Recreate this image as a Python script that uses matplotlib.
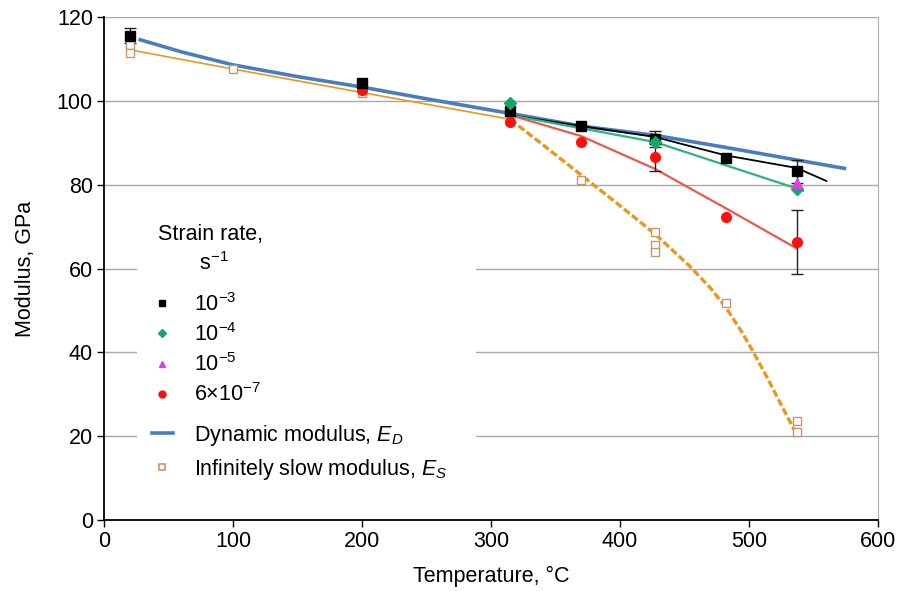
import matplotlib
matplotlib.use("Agg")
import matplotlib.pyplot as plt
from matplotlib.lines import Line2D
import numpy as np

plt.rcParams["font.family"] = ["Liberation Sans", "DejaVu Sans"]
plt.rcParams["mathtext.fontset"] = "custom"
plt.rcParams["mathtext.rm"] = "Liberation Sans"
plt.rcParams["mathtext.it"] = "Liberation Sans:italic"

# measured points, strain rate 1e-3 / 1e-4 / 1e-5 / 6e-7
t_e3 = [20, 200, 315, 370, 427, 482, 537]
m_e3 = [115.6, 104.2, 97.6, 93.9, 91.0, 86.3, 83.2]
err_e3 = [1.7, 0, 0, 0, 1.9, 0, 2.7]

t_e4 = [315, 427, 537]
m_e4 = [99.6, 90.3, 79.0]

t_e5 = [537]
m_e5 = [80.3]

t_e7 = [200, 315, 370, 427, 482, 537]
m_e7 = [102.6, 94.9, 90.3, 86.5, 72.3, 66.4]
err_e7 = [0, 0, 0, 3.2, 0, 7.6]

# fitted curves
fit_e3_t = [315, 370, 427, 482, 537, 560]
fit_e3_m = [96.6, 94.0, 91.4, 87.0, 84.0, 80.9]
fit_e4_t = [315, 427, 542]
fit_e4_m = [96.6, 90.2, 78.6]
fit_e7_t = [315, 370, 427, 482, 537]
fit_e7_m = [96.6, 91.6, 83.8, 74.4, 64.8]

# dynamic modulus E_D
ed_t = [28, 60, 100, 150, 200, 250, 315, 370, 427, 482, 537, 574]
ed_m = [114.6, 111.7, 108.6, 105.8, 103.3, 100.5, 97.0, 94.0, 91.8, 88.9, 85.9, 83.9]

# infinitely slow modulus E_S
es_t = [20, 100, 200, 315, 340, 370, 400, 427, 454, 470, 482, 495, 503, 515, 525, 537]
es_m = [112.2, 107.6, 102.0, 95.6, 89.6, 82.3, 75.0, 68.3, 60.6, 55.4, 50.8, 44.6,
        40.3, 33.5, 27.5, 20.4]
es_pts_t = [20, 20, 100, 200, 315, 370, 427, 427, 427, 482, 537, 537]
es_pts_m = [113.4, 111.5, 107.6, 102.0, 95.2, 81.1, 68.7, 65.6, 64.0, 51.8, 23.6, 21.0]

C_BLACK = "#000000"
C_GREEN = "#12A86B"
C_MAG = "#E040E0"
C_RED = "#FF1010"
C_REDLINE = "#E65A50"
C_GREENLINE = "#2DB47C"
C_BLUE = "#4A7EBB"
C_ORANGE = "#E8981E"
C_ESMARK = "#C8956B"

fig = plt.figure(figsize=(9.02, 5.91), dpi=100)
ax = fig.add_axes([0.1153, 0.1201, 0.858, 0.851])

ax.set_xlim(0, 600)
ax.set_ylim(0, 120)
ax.set_xticks(np.arange(0, 601, 100))
ax.set_yticks(np.arange(0, 121, 20))
ax.grid(axis="y", color="#A8A8A8", linewidth=1.0, zorder=0)
ax.set_axisbelow(True)
ax.spines["top"].set_visible(False)
ax.spines["right"].set_color("#B0B0B0")
ax.spines["left"].set_linewidth(1.3)
ax.spines["bottom"].set_linewidth(1.3)
ax.tick_params(axis="both", direction="out", length=5, width=1.0, labelsize=15.5, pad=3)

# curves
ax.plot(es_t[:4], es_m[:4], color=C_ORANGE, lw=1.2, zorder=3)
ax.plot(es_t[3:], es_m[3:], color=C_ORANGE, lw=2.4, ls=(0, (2.2, 0.9)), zorder=3)
ax.plot(ed_t, ed_m, color=C_BLUE, lw=2.6, zorder=4)
ax.plot(fit_e3_t, fit_e3_m, color=C_BLACK, lw=1.3, zorder=4)
ax.plot(fit_e4_t, fit_e4_m, color=C_GREENLINE, lw=1.6, zorder=4)
ax.plot(fit_e7_t, fit_e7_m, color=C_REDLINE, lw=1.6, zorder=4)

# error bars
e3 = np.array(err_e3)
mk = e3 > 0
ax.errorbar(np.array(t_e3)[mk], np.array(m_e3)[mk], yerr=e3[mk], fmt="none",
            ecolor="#202020", elinewidth=1.0, capsize=4, capthick=1.0, zorder=5)
e7 = np.array(err_e7)
mk = e7 > 0
ax.errorbar(np.array(t_e7)[mk], np.array(m_e7)[mk], yerr=e7[mk], fmt="none",
            ecolor="#202020", elinewidth=1.0, capsize=4, capthick=1.0, zorder=5)

# markers
ax.plot(es_pts_t, es_pts_m, ls="none", marker="s", ms=6, mfc="white",
        mec=C_ESMARK, mew=1.0, zorder=5)
ax.plot(t_e7, m_e7, ls="none", marker="o", ms=7, color=C_RED, zorder=6)
ax.plot(t_e3, m_e3, ls="none", marker="s", ms=7, color=C_BLACK, zorder=7)
ax.plot(t_e4, m_e4, ls="none", marker="D", ms=6.5, color=C_GREEN, zorder=8)
ax.plot(t_e5, m_e5, ls="none", marker="^", ms=7, color=C_MAG, zorder=9)

ax.set_xlabel("Temperature, °C", fontsize=15.5, labelpad=10)
ax.set_ylabel("Modulus, GPa", fontsize=15.5, labelpad=15)

# legends
h1 = [
    Line2D([], [], ls="none", marker="s", ms=5, color=C_BLACK),
    Line2D([], [], ls="none", marker="D", ms=4.5, color=C_GREEN),
    Line2D([], [], ls="none", marker="^", ms=5, color=C_MAG),
    Line2D([], [], ls="none", marker="o", ms=5, color=C_RED),
]
l1 = [r"10$^{-3}$", r"10$^{-4}$", r"10$^{-5}$", r"6×10$^{-7}$"]
h2 = [
    Line2D([], [], color=C_BLUE, lw=2.6),
    Line2D([], [], ls="none", marker="s", ms=5, mfc="white", mec=C_ESMARK, mew=1.2),
]
l2 = [r"Dynamic modulus, $E_D$", r"Infinitely slow modulus, $E_S$"]

x0 = (137 - 104) / 774
wid = (476 - 137) / 774
leg1 = ax.legend(h1, l1, title=" Strain rate,\n        s$^{-1}$", loc="upper left",
                 bbox_to_anchor=(x0, (520 - 209) / 503, wid, 0), mode="expand",
                 borderaxespad=0, borderpad=0.68, frameon=True, facecolor="white",
                 edgecolor="none", framealpha=1, fancybox=False, fontsize=15.5,
                 title_fontsize=15.5, handlelength=1.0, handletextpad=0.95,
                 labelspacing=0.34, alignment="left")
leg1.get_title().set_linespacing(1.4)
leg1._legend_box.sep = 13
leg1.set_zorder(2)
ax.add_artist(leg1)
leg2 = ax.legend(h2, l2, loc="upper left",
                 bbox_to_anchor=(x0, (520 - 408) / 503, wid, 0), mode="expand",
                 borderaxespad=0, borderpad=0.68, frameon=True, facecolor="white",
                 edgecolor="none", framealpha=1, fancybox=False, fontsize=15.5,
                 handlelength=1.0, handletextpad=0.95, labelspacing=0.43)
leg2.set_zorder(2)

fig.savefig("out.png", dpi=100)
